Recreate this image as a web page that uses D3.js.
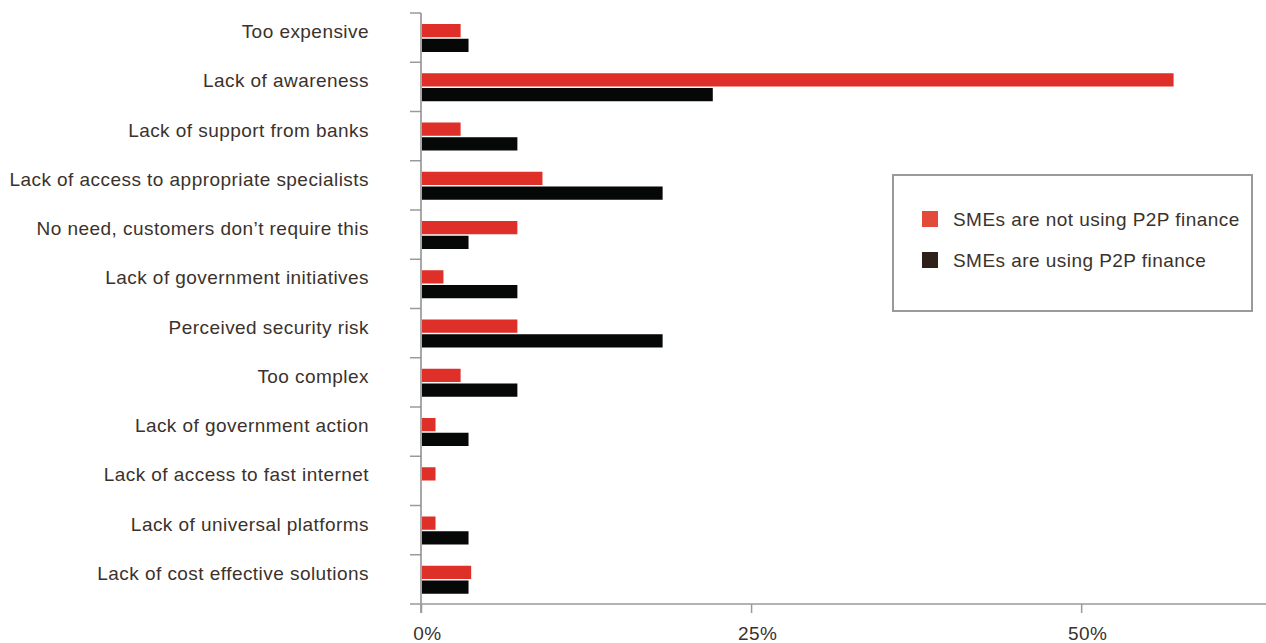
<!DOCTYPE html>
<html>
<head>
<meta charset="utf-8">
<script src="https://cdn.jsdelivr.net/npm/d3@7"></script>
<style>
  body { margin: 0; background: #fff; }
  svg { display: block; }
  text { font-family: "Liberation Sans", Arial, sans-serif; fill: #3b322c; letter-spacing: 0.45px; }
</style>
</head>
<body>
<svg class="Chart"></svg>
<script>
// values, percent of respondents
var categories = [
    "Too expensive",
    "Lack of awareness",
    "Lack of support from banks",
    "Lack of access to appropriate specialists",
    "No need, customers don\u2019t require this",
    "Lack of government initiatives",
    "Perceived security risk",
    "Too complex",
    "Lack of government action",
    "Lack of access to fast internet",
    "Lack of universal platforms",
    "Lack of cost effective solutions"
];
var notUsing = [3.0, 57.0, 3.0, 9.2, 7.3, 1.7, 7.3, 3.0, 1.1, 1.1, 1.1, 3.8];
var using = [3.6, 22.1, 7.3, 18.3, 3.6, 7.3, 18.3, 7.3, 3.6, 0, 3.6, 3.6];
var seriesNames = ["SMEs are not using P2P finance", "SMEs are using P2P finance"];
var xTicks = [0, 25, 50];

function drawChart(){
    let width = 1266, height = 643;
    let barColors = ["#de2f28", "#060808"];
    let legendColors = ["#e34a3a", "#2e2119"];

    let svg = d3.select(".Chart")
        .attr("width", width)
        .attr("height", height);

    let x = d3.scaleLinear().domain([0, 64]).range([421, 1266]);
    let y = d3.scaleBand().domain(categories).range([13, 604]);
    let sub = d3.scaleBand().domain([0, 1]).range([11, 39]).paddingInner(0.1);

    let rows = categories.map((c, i) => ({name: c, vals: [notUsing[i], using[i]]}));

    // bars
    let group = svg.append("g").attr("class", "bars")
        .selectAll("g")
        .data(rows)
        .join("g")
        .attr("transform", d => "translate(0," + y(d.name) + ")");

    group.selectAll("rect")
        .data(d => d.vals.filter(v => v > 0).length ? d.vals.map((v, k) => ({k: k, v: v})) : [])
        .join("rect")
        .attr("x", x(0) + 1)
        .attr("y", d => sub(d.k))
        .attr("width", d => Math.max(0, x(d.v) - x(0) - 1))
        .attr("height", sub.bandwidth())
        .attr("fill", d => barColors[d.k]);

    // category labels
    svg.append("g").attr("class", "labels")
        .selectAll("text")
        .data(categories)
        .join("text")
        .attr("x", 369)
        .attr("y", d => y(d) + 25)
        .attr("text-anchor", "end")
        .style("font-size", "19px")
        .text(d => d);

    // left axis: line plus ticks between the bands
    let yAxis = svg.append("g").attr("class", "y-axis");
    yAxis.selectAll("line.tick")
        .data(categories)
        .join("line")
        .attr("class", "tick")
        .attr("x1", 410).attr("x2", x(0))
        .attr("y1", d => y(d)).attr("y2", d => y(d))
        .attr("stroke", "#9a9a9a")
        .attr("stroke-width", 1.5);
    yAxis.append("line")
        .attr("x1", x(0)).attr("x2", x(0))
        .attr("y1", y.range()[0]).attr("y2", y.range()[1] + 9)
        .attr("stroke", "#8a8a8a")
        .attr("stroke-width", 1.5);

    // bottom axis
    let xAxis = svg.append("g")
        .attr("class", "x-axis")
        .attr("transform", "translate(0," + y.range()[1] + ")")
        .call(d3.axisBottom(x).tickValues(xTicks).tickSize(9).tickSizeOuter(0).tickFormat(d => d + "%"));
    xAxis.select(".domain").remove();
    xAxis.selectAll(".tick line").attr("stroke", "#9a9a9a").attr("stroke-width", 1.5);
    xAxis.selectAll(".tick text")
        .attr("y", 36)
        .attr("dy", 0)
        .attr("dx", 6)
        .style("font-size", "19px")
        .style("font-family", "Liberation Sans, Arial, sans-serif")
        .attr("fill", "#3b322c");
    xAxis.append("line")
        .attr("x1", 410).attr("x2", x.range()[1])
        .attr("y1", 0).attr("y2", 0)
        .attr("stroke", "#9a9a9a")
        .attr("stroke-width", 1.5);

    // legend
    let legend = svg.append("g").attr("class", "legend")
        .attr("transform", "translate(893,175)");
    legend.append("rect")
        .attr("width", 359)
        .attr("height", 136)
        .attr("fill", "#fff")
        .attr("stroke", "#9a9a9a")
        .attr("stroke-width", 2);
    let item = legend.selectAll("g.item")
        .data(seriesNames)
        .join("g")
        .attr("class", "item")
        .attr("transform", (d, i) => "translate(29," + (36 + i * 41) + ")");
    item.append("rect")
        .attr("width", 16)
        .attr("height", 16)
        .attr("fill", (d, i) => legendColors[i]);
    item.append("text")
        .attr("x", 31)
        .attr("y", 15)
        .style("font-size", "19px")
        .text(d => d);
}

drawChart();
</script>
</body>
</html>
